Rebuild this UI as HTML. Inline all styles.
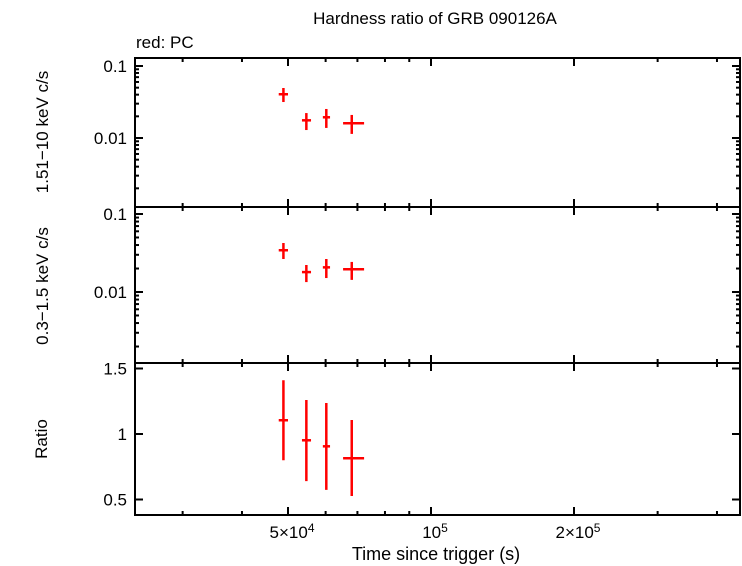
<!DOCTYPE html>
<html><head><meta charset="utf-8"><style>
body{margin:0;background:#fff;}
svg{display:block;font-family:"Liberation Sans",sans-serif;}
</style></head><body>
<svg id="chart" width="742" height="566" xmlns="http://www.w3.org/2000/svg">
<text x="435" y="24" font-size="17" text-anchor="middle">Hardness ratio of GRB 090126A</text>
<text x="136" y="48" font-size="17">red: PC</text>
<text x="436" y="560" font-size="18" text-anchor="middle">Time since trigger (s)</text>
<text transform="translate(48,132) rotate(-90)" font-size="17" text-anchor="middle">1.51−10 keV c/s</text>
<text transform="translate(48,286) rotate(-90)" font-size="17" text-anchor="middle">0.3−1.5 keV c/s</text>
<text transform="translate(47,439) rotate(-90)" font-size="17" text-anchor="middle">Ratio</text>
<g id="marks"></g>
</svg>
<script>
const times=[48900,54650,60200,68100];
const timeLo=[47800,53500,59200,65300];
const timeHi=[50000,55900,61300,72300];
const hard=[0.0405,0.0176,0.0194,0.016];
const hardLo=[0.0316,0.0129,0.0138,0.0114];
const hardHi=[0.0495,0.0222,0.0253,0.0209];
const soft=[0.0343,0.018,0.0207,0.0196];
const softLo=[0.0265,0.0134,0.0151,0.0143];
const softHi=[0.0425,0.0222,0.0265,0.0243];
const ratio=[1.105,0.952,0.906,0.815];
const ratioLo=[0.80,0.64,0.573,0.527];
const ratioHi=[1.41,1.26,1.237,1.107];
const xTickVals=[5e4,1e5,2e5];
const xTickLabels=["5×10","10","2×10"];
const xTickSup=["4","5","5"];
const logTickVals=[0.1,0.01];
const logTickLabels=["0.1","0.01"];
const ratioTickVals=[1.5,1,0.5];
const ratioTickLabels=["1.5","1","0.5"];

const L=135,R=740,NS="http://www.w3.org/2000/svg";
const g=document.getElementById('marks');
const X=t=>431+475*(Math.log10(t)-5);
const panels=[
 {top:58,bot:207,y:v=>66+72*(-1-Math.log10(v)),name:'hard'},
 {top:207,bot:363,y:v=>214+78*(-1-Math.log10(v)),name:'soft'},
 {top:363,bot:515,y:v=>434-131*(v-1),name:'ratio'}];
function el(tag,a){const e=document.createElementNS(NS,tag);for(const k in a)e.setAttribute(k,a[k]);g.appendChild(e);return e;}
function line(x1,y1,x2,y2,c,w){return el('line',{x1,y1,x2,y2,stroke:c,'stroke-width':w});}

panels.forEach((p,pi)=>{
 const fr=el('rect',{x:L,y:p.top,width:R-L,height:p.bot-p.top,fill:'none',stroke:'#000','stroke-width':2});
 
 
 for(let d=4;d<=5;d++)for(let m=1;m<10;m++){const t=m*Math.pow(10,d);const x=X(t);if(x<=L||x>=R)continue;
  const major=xTickVals.includes(t);const len=major?8:4;
  line(x,p.bot,x,p.bot-len,'#000',2);line(x,p.top,x,p.top+len,'#000',2);}
 if(pi<2){
  [0.001,0.01,0.1].forEach(dec=>{for(let m=1;m<10;m++){const v=m*dec;const y=p.y(v);if(y<p.top||y>p.bot)continue;
   const len=m===1?8:4;line(L,y,L+len,y,'#000',2);line(R,y,R-len,y,'#000',2);}});
  logTickVals.forEach((v,i)=>{const t=el('text',{x:L-8,y:p.y(v)+6,'font-size':17,'text-anchor':'end'});t.textContent=logTickLabels[i];
   });
 } else {
  ratioTickVals.forEach((v,i)=>{const y=p.y(v);line(L,y,L+8,y,'#000',2);line(R,y,R-8,y,'#000',2);
   const t=el('text',{x:L-8,y:y+6,'font-size':17,'text-anchor':'end'});t.textContent=ratioTickLabels[i];
   });
 }
});
xTickVals.forEach((v,i)=>{const t=el('text',{x:X(v)+4,y:538,'font-size':17,'text-anchor':'middle'});
 t.textContent=xTickLabels[i];const s=document.createElementNS(NS,'tspan');s.setAttribute('dy','-6');s.setAttribute('font-size','12');s.textContent=xTickSup[i];t.appendChild(s);
 });

const series=[[hard,hardLo,hardHi],[soft,softLo,softHi],[ratio,ratioLo,ratioHi]];
series.forEach((s,pi)=>{const p=panels[pi];
 times.forEach((t,i)=>{const x=X(t),y=p.y(s[0][i]);
  const a=line(X(timeLo[i]),y,X(timeHi[i]),y,'#f00',2.5);
  
  const b=line(x,p.y(s[1][i]),x,p.y(s[2][i]),'#f00',2.5);
  });
});
</script>
</body></html>
